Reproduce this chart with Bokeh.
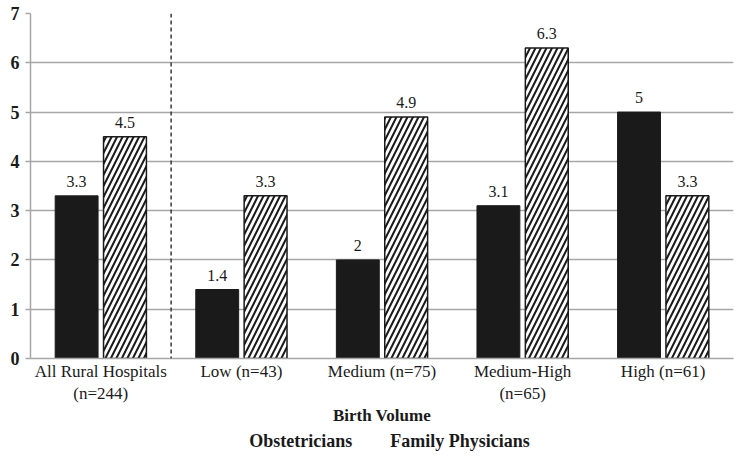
from bokeh.plotting import figure
from bokeh.models import (ColumnDataSource, FactorRange, LabelSet, Span, Legend,
                          LegendItem, Range1d, FixedTicker)
from bokeh.layouts import column
from bokeh.transform import dodge
from bokeh.embed import file_html
from bokeh.resources import INLINE

# ---- data ----
categories = ["All Rural Hospitals\n(n=244)", "Low (n=43)", "Medium (n=75)",
              "Medium-High\n(n=65)", "High (n=61)"]
obstetricians = [3.3, 1.4, 2, 3.1, 5]
family_physicians = [4.5, 3.3, 4.9, 6.3, 3.3]
obs_labels = ["3.3", "1.4", "2", "3.1", "5"]
fp_labels = ["4.5", "3.3", "4.9", "6.3", "3.3"]
y_ticks = [0, 1, 2, 3, 4, 5, 6, 7]
series_names = ["Obstetricians", "Family Physicians"]
x_title = "Birth Volume"

source = ColumnDataSource(dict(cat=categories, obs=obstetricians, fp=family_physicians,
                               obs_lab=obs_labels, fp_lab=fp_labels))

FONT = "Liberation Serif"
GRID = "#a6a6a6"
INK = "#1a1a1a"
obs_style = dict(fill_color=INK, line_color=INK)
fp_style = dict(fill_color="white", line_color=INK, line_width=1.5, hatch_pattern="/",
                hatch_color=INK, hatch_weight=2, hatch_scale=11)

p = figure(x_range=FactorRange(*categories), y_range=Range1d(0, 7),
           width=742, height=428, output_backend="svg", toolbar_location=None,
           min_border_left=30, min_border_right=9, min_border_top=13,
           min_border_bottom=64)
p.outline_line_color = None
p.background_fill_color = "white"

bar_w = 0.305
off = 0.172
p.vbar(x=dodge("cat", -off, range=p.x_range), top="obs", width=bar_w, source=source, **obs_style)
p.vbar(x=dodge("cat", off, range=p.x_range), top="fp", width=bar_w, source=source, **fp_style)

lab_common = dict(source=source, y_offset=9, text_align="center", text_baseline="bottom",
                  text_font=FONT, text_font_size="16px", text_color=INK,
                  background_fill_color="white")
p.add_layout(LabelSet(x=dodge("cat", -off, range=p.x_range), y="obs", text="obs_lab", **lab_common))
p.add_layout(LabelSet(x=dodge("cat", off, range=p.x_range), y="fp", text="fp_lab", **lab_common))

# dashed separator between the overall group and the birth-volume groups
p.add_layout(Span(location=1, dimension="height", line_color=INK,
                  line_dash="4 3", line_width=1.3))

# y axis
p.yaxis.ticker = FixedTicker(ticks=y_ticks)
p.yaxis.axis_line_color = GRID
p.yaxis.axis_line_width = 1.5
p.yaxis.major_tick_line_color = GRID
p.yaxis.major_tick_line_width = 1.5
p.yaxis.major_tick_out = 5
p.yaxis.major_tick_in = 0
p.yaxis.minor_tick_line_color = None
p.yaxis.major_label_text_font = FONT
p.yaxis.major_label_text_font_style = "bold"
p.yaxis.major_label_text_font_size = "18px"
p.yaxis.major_label_text_color = INK
p.yaxis.major_label_standoff = 6

p.ygrid.grid_line_color = GRID
p.ygrid.grid_line_width = 1.5
p.xgrid.grid_line_color = None

# x axis
p.xaxis.axis_line_color = GRID
p.xaxis.axis_line_width = 1.5
p.xaxis.major_tick_line_color = None
p.xaxis.major_tick_out = 0
p.xaxis.major_tick_in = 0
p.xaxis.major_label_text_font = FONT
p.xaxis.major_label_text_font_size = "17px"
p.xaxis.major_label_text_color = INK
p.xaxis.major_label_standoff = 3
p.xaxis.axis_label = x_title
p.xaxis.axis_label_text_font = FONT
p.xaxis.axis_label_text_font_style = "bold"
p.xaxis.axis_label_text_font_size = "17px"
p.xaxis.axis_label_text_color = INK
p.xaxis.axis_label_standoff = 0

# ---- legend strip below the chart ----
leg = figure(width=742, height=26, output_backend="svg", toolbar_location=None,
             x_range=Range1d(0, 1), y_range=Range1d(0, 1), min_border=0)
leg.axis.visible = False
leg.grid.visible = False
leg.outline_line_color = None
r_obs = leg.vbar(x=[], top=[], width=0.1, **obs_style)
r_fp = leg.vbar(x=[], top=[], width=0.1, **fp_style)
legend = Legend(items=[LegendItem(label=series_names[0], renderers=[r_obs]),
                       LegendItem(label=series_names[1], renderers=[r_fp])],
                orientation="horizontal", location="center",
                label_text_font=FONT, label_text_font_style="bold",
                label_text_font_size="18px", label_text_color=INK,
                glyph_width=12, glyph_height=12, spacing=22, padding=0, margin=0,
                label_standoff=4, border_line_color=None, background_fill_alpha=0)
leg.add_layout(legend, "center")

layout = column(p, leg, spacing=0)
open("out.html", "w").write(file_html(layout, INLINE))
